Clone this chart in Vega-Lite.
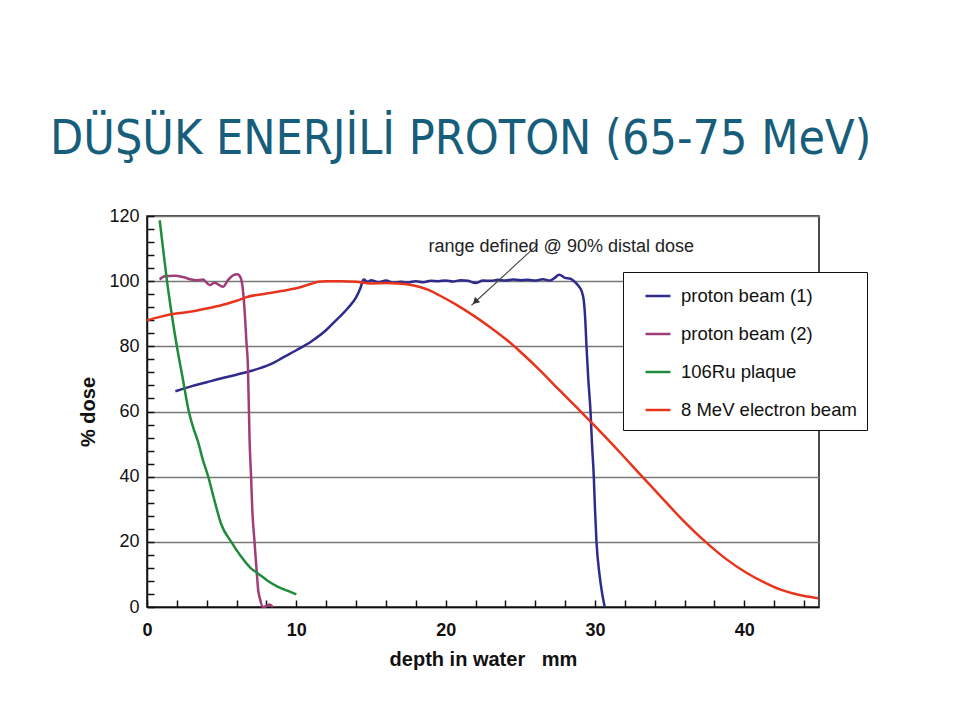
{
  "$schema": "https://vega.github.io/schema/vega-lite/v6.json",
  "width": 672,
  "height": 391,
  "autosize": "none",
  "padding": {"left": 147, "top": 216, "right": 141, "bottom": 113},
  "background": "white",
  "title": {
    "text": "DÜŞÜK ENERJİLİ PROTON (65-75 MeV)",
    "anchor": "start",
    "frame": "group",
    "font": "DejaVu Sans Condensed, DejaVu Sans, sans-serif",
    "fontSize": 48,
    "fontWeight": "normal",
    "color": "#165e7b",
    "baseline": "alphabetic",
    "offset": 5,
    "dx": -97
  },
  "datasets": {
    "curves": [
      {"s": "proton beam (1)", "x": 1.9, "y": 66.2},
      {"s": "proton beam (1)", "x": 3, "y": 67.8},
      {"s": "proton beam (1)", "x": 4, "y": 69},
      {"s": "proton beam (1)", "x": 5, "y": 70.2},
      {"s": "proton beam (1)", "x": 6, "y": 71.3},
      {"s": "proton beam (1)", "x": 7, "y": 72.5},
      {"s": "proton beam (1)", "x": 8, "y": 74},
      {"s": "proton beam (1)", "x": 8.5, "y": 75},
      {"s": "proton beam (1)", "x": 9, "y": 76.3},
      {"s": "proton beam (1)", "x": 10, "y": 78.8},
      {"s": "proton beam (1)", "x": 11, "y": 81.5},
      {"s": "proton beam (1)", "x": 12, "y": 85},
      {"s": "proton beam (1)", "x": 12.5, "y": 87.3},
      {"s": "proton beam (1)", "x": 13, "y": 89.5},
      {"s": "proton beam (1)", "x": 13.5, "y": 92},
      {"s": "proton beam (1)", "x": 14, "y": 95},
      {"s": "proton beam (1)", "x": 14.3, "y": 98},
      {"s": "proton beam (1)", "x": 14.5, "y": 100.5},
      {"s": "proton beam (1)", "x": 14.8, "y": 99.8},
      {"s": "proton beam (1)", "x": 15, "y": 100.3},
      {"s": "proton beam (1)", "x": 15.5, "y": 99.7},
      {"s": "proton beam (1)", "x": 16, "y": 100.2},
      {"s": "proton beam (1)", "x": 16.5, "y": 99.5},
      {"s": "proton beam (1)", "x": 17, "y": 99.8},
      {"s": "proton beam (1)", "x": 17.5, "y": 99.6},
      {"s": "proton beam (1)", "x": 18, "y": 100},
      {"s": "proton beam (1)", "x": 18.5, "y": 99.7},
      {"s": "proton beam (1)", "x": 19, "y": 100.1},
      {"s": "proton beam (1)", "x": 19.5, "y": 100},
      {"s": "proton beam (1)", "x": 20, "y": 100.2},
      {"s": "proton beam (1)", "x": 20.5, "y": 99.9},
      {"s": "proton beam (1)", "x": 21, "y": 100.3},
      {"s": "proton beam (1)", "x": 21.5, "y": 100.1},
      {"s": "proton beam (1)", "x": 22, "y": 99.4},
      {"s": "proton beam (1)", "x": 22.5, "y": 100.2},
      {"s": "proton beam (1)", "x": 23, "y": 100.1},
      {"s": "proton beam (1)", "x": 23.5, "y": 100.4},
      {"s": "proton beam (1)", "x": 24, "y": 100.2},
      {"s": "proton beam (1)", "x": 24.5, "y": 100.5},
      {"s": "proton beam (1)", "x": 25, "y": 100.3},
      {"s": "proton beam (1)", "x": 25.5, "y": 100.4},
      {"s": "proton beam (1)", "x": 26, "y": 100.2},
      {"s": "proton beam (1)", "x": 26.5, "y": 100.6},
      {"s": "proton beam (1)", "x": 27, "y": 100.2},
      {"s": "proton beam (1)", "x": 27.3, "y": 101},
      {"s": "proton beam (1)", "x": 27.6, "y": 102},
      {"s": "proton beam (1)", "x": 28, "y": 101},
      {"s": "proton beam (1)", "x": 28.3, "y": 100.8},
      {"s": "proton beam (1)", "x": 28.6, "y": 100},
      {"s": "proton beam (1)", "x": 28.9, "y": 98.5},
      {"s": "proton beam (1)", "x": 29.1, "y": 97},
      {"s": "proton beam (1)", "x": 29.25, "y": 94},
      {"s": "proton beam (1)", "x": 29.35, "y": 88},
      {"s": "proton beam (1)", "x": 29.43, "y": 80},
      {"s": "proton beam (1)", "x": 29.55, "y": 70},
      {"s": "proton beam (1)", "x": 29.7, "y": 60},
      {"s": "proton beam (1)", "x": 29.8, "y": 50},
      {"s": "proton beam (1)", "x": 29.92, "y": 40},
      {"s": "proton beam (1)", "x": 30.0, "y": 30},
      {"s": "proton beam (1)", "x": 30.1, "y": 20},
      {"s": "proton beam (1)", "x": 30.3, "y": 10},
      {"s": "proton beam (1)", "x": 30.45, "y": 5},
      {"s": "proton beam (1)", "x": 30.65, "y": 0},
      {"s": "proton beam (2)", "x": 0.85, "y": 100.5},
      {"s": "proton beam (2)", "x": 1.18, "y": 101.5},
      {"s": "proton beam (2)", "x": 1.85, "y": 101.7},
      {"s": "proton beam (2)", "x": 2.52, "y": 101.1},
      {"s": "proton beam (2)", "x": 2.97, "y": 100.5},
      {"s": "proton beam (2)", "x": 3.3, "y": 100.3},
      {"s": "proton beam (2)", "x": 3.75, "y": 100.5},
      {"s": "proton beam (2)", "x": 4.19, "y": 98.8},
      {"s": "proton beam (2)", "x": 4.52, "y": 99.5},
      {"s": "proton beam (2)", "x": 5.09, "y": 98.3},
      {"s": "proton beam (2)", "x": 5.42, "y": 100.3},
      {"s": "proton beam (2)", "x": 5.76, "y": 101.8},
      {"s": "proton beam (2)", "x": 6.05, "y": 102.1},
      {"s": "proton beam (2)", "x": 6.27, "y": 101.1},
      {"s": "proton beam (2)", "x": 6.43, "y": 97},
      {"s": "proton beam (2)", "x": 6.55, "y": 90},
      {"s": "proton beam (2)", "x": 6.65, "y": 82},
      {"s": "proton beam (2)", "x": 6.76, "y": 73.6},
      {"s": "proton beam (2)", "x": 6.87, "y": 51},
      {"s": "proton beam (2)", "x": 6.97, "y": 40},
      {"s": "proton beam (2)", "x": 7.05, "y": 30},
      {"s": "proton beam (2)", "x": 7.2, "y": 20},
      {"s": "proton beam (2)", "x": 7.36, "y": 10},
      {"s": "proton beam (2)", "x": 7.45, "y": 5},
      {"s": "proton beam (2)", "x": 7.54, "y": 3},
      {"s": "proton beam (2)", "x": 7.76, "y": 0},
      {"s": "proton beam (2)", "x": 8.0, "y": 0.3},
      {"s": "proton beam (2)", "x": 8.2, "y": 0.8},
      {"s": "proton beam (2)", "x": 8.43, "y": 0},
      {"s": "106Ru plaque", "x": 0.85, "y": 118.7},
      {"s": "106Ru plaque", "x": 1.1, "y": 109},
      {"s": "106Ru plaque", "x": 1.34, "y": 100},
      {"s": "106Ru plaque", "x": 1.65, "y": 90},
      {"s": "106Ru plaque", "x": 2.0, "y": 80},
      {"s": "106Ru plaque", "x": 2.4, "y": 70},
      {"s": "106Ru plaque", "x": 2.8, "y": 60},
      {"s": "106Ru plaque", "x": 3.1, "y": 55},
      {"s": "106Ru plaque", "x": 3.4, "y": 51},
      {"s": "106Ru plaque", "x": 3.75, "y": 45},
      {"s": "106Ru plaque", "x": 4.1, "y": 40},
      {"s": "106Ru plaque", "x": 4.5, "y": 33},
      {"s": "106Ru plaque", "x": 4.97, "y": 25.4},
      {"s": "106Ru plaque", "x": 5.64, "y": 20},
      {"s": "106Ru plaque", "x": 6.3, "y": 15.5},
      {"s": "106Ru plaque", "x": 6.98, "y": 11.8},
      {"s": "106Ru plaque", "x": 7.43, "y": 10.3},
      {"s": "106Ru plaque", "x": 8.1, "y": 8},
      {"s": "106Ru plaque", "x": 8.77, "y": 6.2},
      {"s": "106Ru plaque", "x": 9.4, "y": 5},
      {"s": "106Ru plaque", "x": 10, "y": 3.9},
      {"s": "8 MeV electron beam", "x": 0, "y": 88},
      {"s": "8 MeV electron beam", "x": 1, "y": 89.2},
      {"s": "8 MeV electron beam", "x": 1.85, "y": 90},
      {"s": "8 MeV electron beam", "x": 2.86, "y": 90.6},
      {"s": "8 MeV electron beam", "x": 4, "y": 91.6},
      {"s": "8 MeV electron beam", "x": 4.97, "y": 92.6},
      {"s": "8 MeV electron beam", "x": 6, "y": 94},
      {"s": "8 MeV electron beam", "x": 6.76, "y": 95.2},
      {"s": "8 MeV electron beam", "x": 8, "y": 96.2},
      {"s": "8 MeV electron beam", "x": 9, "y": 97},
      {"s": "8 MeV electron beam", "x": 10, "y": 97.8},
      {"s": "8 MeV electron beam", "x": 11, "y": 99.2},
      {"s": "8 MeV electron beam", "x": 11.45, "y": 99.8},
      {"s": "8 MeV electron beam", "x": 12, "y": 100},
      {"s": "8 MeV electron beam", "x": 13, "y": 100},
      {"s": "8 MeV electron beam", "x": 14, "y": 99.8},
      {"s": "8 MeV electron beam", "x": 15, "y": 99.3},
      {"s": "8 MeV electron beam", "x": 16, "y": 99.4},
      {"s": "8 MeV electron beam", "x": 16.8, "y": 99.3},
      {"s": "8 MeV electron beam", "x": 17.7, "y": 98.8},
      {"s": "8 MeV electron beam", "x": 18.8, "y": 97.4},
      {"s": "8 MeV electron beam", "x": 19.6, "y": 95.6},
      {"s": "8 MeV electron beam", "x": 20.7, "y": 92.8},
      {"s": "8 MeV electron beam", "x": 21.84, "y": 89.5},
      {"s": "8 MeV electron beam", "x": 23, "y": 85.8},
      {"s": "8 MeV electron beam", "x": 24.08, "y": 82},
      {"s": "8 MeV electron beam", "x": 25.2, "y": 77.5},
      {"s": "8 MeV electron beam", "x": 26.3, "y": 72.7},
      {"s": "8 MeV electron beam", "x": 27.6, "y": 66.6},
      {"s": "8 MeV electron beam", "x": 28.98, "y": 60.3},
      {"s": "8 MeV electron beam", "x": 29.87, "y": 56.1},
      {"s": "8 MeV electron beam", "x": 31.66, "y": 47.5},
      {"s": "8 MeV electron beam", "x": 33.1, "y": 40.3},
      {"s": "8 MeV electron beam", "x": 34.4, "y": 33.9},
      {"s": "8 MeV electron beam", "x": 35.68, "y": 27.6},
      {"s": "8 MeV electron beam", "x": 37.35, "y": 20.2},
      {"s": "8 MeV electron beam", "x": 38.7, "y": 15},
      {"s": "8 MeV electron beam", "x": 40.14, "y": 10.5},
      {"s": "8 MeV electron beam", "x": 41.3, "y": 7.6},
      {"s": "8 MeV electron beam", "x": 42.37, "y": 5.4},
      {"s": "8 MeV electron beam", "x": 43.7, "y": 3.7},
      {"s": "8 MeV electron beam", "x": 44.93, "y": 2.7}
    ],
    "note": [
      {"label": "range defined @ 90% distal dose", "x": 27.74, "y": 108.9}
    ],
    "arrow": [
      {"x": 26.17, "y": 111.3, "x2": 21.73, "y2": 92.6}
    ],
    "head": [
      {"x": 21.98, "y": 93.7}
    ]
  },
  "resolve": {"axis": {"x": "independent", "y": "independent"}},
  "layer": [
    {
      "data": {"name": "curves"},
      "mark": {"type": "line", "strokeWidth": 2.5, "strokeJoin": "round", "interpolate": "monotone"},
      "encoding": {
        "x": {
          "field": "x",
          "type": "quantitative",
          "scale": {"domain": [0, 45], "nice": false, "zero": false},
          "axis": {
            "title": "depth in water\u00a0\u00a0 mm",
            "orient": "bottom",
            "values": [0, 10, 20, 30, 40],
            "ticks": false,
            "grid": false,
            "labelFontSize": 18,
            "labelFontWeight": "bold",
            "labelPadding": 14,
            "titleFontSize": 20,
            "titleFontWeight": "bold",
            "titlePadding": 10
          }
        },
        "y": {
          "field": "y",
          "type": "quantitative",
          "scale": {"domain": [0, 120], "nice": false},
          "axis": {
            "title": "% dose",
            "orient": "left",
            "values": [0, 20, 40, 60, 80, 100, 120],
            "ticks": false,
            "grid": true,
            "labelFontSize": 18,
            "labelPadding": 8,
            "titleFontSize": 20,
            "titleFontWeight": "bold",
            "titlePadding": 10
          }
        },
        "color": {
          "field": "s",
          "type": "nominal",
          "scale": {
            "domain": ["proton beam (1)", "proton beam (2)", "106Ru plaque", "8 MeV electron beam"],
            "range": ["#2e2b8c", "#a03c78", "#1e8c3a", "#e8341c"]
          },
          "legend": {"title": null}
        }
      }
    },
    {
      "data": {"name": "arrow"},
      "mark": {"type": "rule", "color": "#444444", "strokeWidth": 1.1},
      "encoding": {
        "x": {
          "field": "x",
          "type": "quantitative",
          "scale": {"domain": [0, 45], "nice": false, "zero": false},
          "axis": {
            "title": null,
            "orient": "top",
            "offset": -391,
            "values": [0, 2, 4, 6, 8, 10, 12, 14, 16, 18, 20, 22, 24, 26, 28, 30, 32, 34, 36, 38, 40, 42, 44],
            "labels": false,
            "domain": false,
            "grid": false,
            "ticks": true,
            "tickSize": 7,
            "tickWidth": 1.5,
            "tickColor": "#111111",
            "tickOpacity": 1
          }
        },
        "y": {
          "field": "y",
          "type": "quantitative",
          "scale": {"domain": [0, 120], "nice": false},
          "axis": {
            "title": null,
            "orient": "right",
            "offset": -672,
            "values": [0, 4, 8, 12, 16, 20, 24, 28, 32, 36, 40, 44, 48, 52, 56, 60, 64, 68, 72, 76, 80, 84, 88, 92, 96, 100, 104, 108, 112, 116, 120],
            "labels": false,
            "domain": false,
            "grid": false,
            "ticks": true,
            "tickSize": 7,
            "tickWidth": 1.5,
            "tickColor": "#111111",
            "tickOpacity": 1
          }
        },
        "x2": {"field": "x2"},
        "y2": {"field": "y2"}
      }
    },
    {
      "data": {"name": "head"},
      "mark": {"type": "point", "shape": "triangle-up", "filled": true, "color": "#333333", "size": 55, "angle": 226, "opacity": 1},
      "encoding": {
        "x": {"field": "x", "type": "quantitative", "axis": null, "scale": {"domain": [0, 45], "nice": false, "zero": false}},
        "y": {"field": "y", "type": "quantitative", "axis": null, "scale": {"domain": [0, 120], "nice": false}}
      }
    },
    {
      "data": {"name": "note"},
      "mark": {"type": "text", "font": "Liberation Sans", "fontSize": 18, "color": "#222222", "align": "center", "baseline": "alphabetic"},
      "encoding": {
        "x": {"field": "x", "type": "quantitative", "axis": null, "scale": {"domain": [0, 45], "nice": false, "zero": false}},
        "y": {"field": "y", "type": "quantitative", "axis": null, "scale": {"domain": [0, 120], "nice": false}},
        "text": {"field": "label"}
      }
    }
  ],
  "config": {
    "font": "Liberation Sans",
    "view": {"stroke": "#111111", "strokeWidth": 1.5},
    "axis": {
      "zindex": 1,
      "domainColor": "#111111",
      "domainWidth": 1.5,
      "labelColor": "#111111",
      "titleColor": "#111111",
      "labelFont": "Liberation Sans",
      "titleFont": "Liberation Sans",
      "labelOverlap": false,
      "labelFlush": false,
      "gridColor": "#777777",
      "gridWidth": 1.3
    },
    "legend": {
      "orient": "none",
      "legendX": 476,
      "legendY": 56,
      "strokeColor": "#111111",
      "fillColor": "white",
      "padding": 10,
      "symbolOffset": 11,
      "symbolSize": 625,
      "symbolStrokeWidth": 2.5,
      "labelFont": "Liberation Sans",
      "labelFontSize": 18.5,
      "labelColor": "#111111",
      "labelOffset": 9,
      "labelLimit": 300,
      "rowPadding": 14
    }
  }
}
